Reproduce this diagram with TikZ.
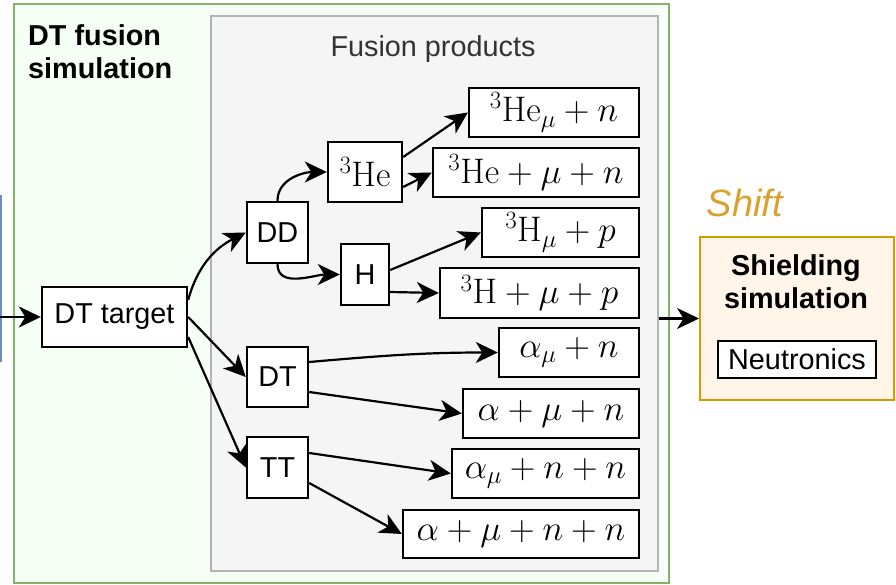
\RequirePackage{fix-cm}
\documentclass[tikz,border=0pt]{standalone}
\usepackage[no-math]{fontspec}
\setmainfont{Liberation Sans}
\usetikzlibrary{arrows.meta}

\definecolor{grnline}{HTML}{82B366}
\definecolor{grnfill}{HTML}{F6FFF5}
\definecolor{grayline}{HTML}{B3B3B3}
\definecolor{grayfill}{HTML}{F5F5F5}
\definecolor{orgline}{HTML}{D79B00}
\definecolor{orgfill}{HTML}{FFF5E9}
\definecolor{shiftcol}{HTML}{D9A12E}
\definecolor{bluline}{HTML}{6C8EBF}
\definecolor{labelgray}{HTML}{333333}

\newcommand{\sanssize}{\fontsize{28.8}{33}\selectfont}
\newcommand{\mathsize}{\fontsize{35.5}{42}\selectfont}

\tikzset{
  box/.style={draw=black, line width=2.4pt, fill=white, inner sep=0pt},
  sbox/.style={box, font=\sanssize},
  mbox/.style={box, font=\mathsize},
  link/.style={line width=2.2pt, -{Stealth[length=22pt,width=21pt,inset=6.5pt]}},
  frame/.style={line width=2pt, inner sep=0pt, anchor=north west},
  heading/.style={font=\sanssize\bfseries, inner sep=0pt},
}

\begin{document}
\begin{tikzpicture}[x=1pt, y=1pt]
  \useasboundingbox (0,0) rectangle (896,-585);

  % containers
  \node[frame, draw=grnline, fill=grnfill, minimum width=655pt, minimum height=579pt] (sim) at (13,-3) {};
  \draw[bluline, line width=2pt] (1,-195) -- (1,-362);
  \node[frame, draw=grayline, fill=grayfill, minimum width=447pt, minimum height=555pt] (prod) at (210,-15) {};

  \node[heading, anchor=base west] (simtitleA) at (28,-46) {DT fusion};
  \node[heading, anchor=base west] (simtitleB) at (28,-79) {simulation};
  \node[font=\sanssize, text=labelgray, inner sep=0pt, anchor=base] (prodtitle) at (433,-57) {Fusion products};

  % reaction chain
  \node[sbox, minimum width=145pt, minimum height=60pt] (dtt) at (114.5,-317) {DT target};
  \node[sbox, minimum width=61pt, minimum height=61pt] (dd) at (277.5,-232.5) {DD};
  \node[sbox, minimum width=61pt, minimum height=60pt] (dt) at (277.5,-377) {DT};
  \node[sbox, minimum width=61pt, minimum height=61pt] (tt) at (277.5,-467.5) {TT};
  \node[mbox, minimum width=74pt, minimum height=60pt] (he3) at (365,-172) {$^{3}\mathrm{He}$};
  \node[sbox, minimum width=48pt, minimum height=61pt] (h) at (365,-274.5) {H};

  % products
  \node[mbox, minimum width=170pt, minimum height=49pt] (p1) at (554,-112.5) {$^{3}\mathrm{He}_\mu+n$};
  \node[mbox, minimum width=206pt, minimum height=49pt] (p2) at (536,-172.5) {$^{3}\mathrm{He}+\mu+n$};
  \node[mbox, minimum width=157pt, minimum height=49pt] (p3) at (560.5,-232.5) {$^{3}\mathrm{H}_\mu+p$};
  \node[mbox, minimum width=199pt, minimum height=50pt] (p4) at (539.5,-293) {$^{3}\mathrm{H}+\mu+p$};
  \node[mbox, minimum width=140pt, minimum height=49pt] (p5) at (569,-352.5) {$\alpha_\mu+n$};
  \node[mbox, minimum width=176pt, minimum height=49pt] (p6) at (551,-413.5) {$\alpha+\mu+n$};
  \node[mbox, minimum width=187pt, minimum height=49pt] (p7) at (545.5,-473.5) {$\alpha_\mu+n+n$};
  \node[mbox, minimum width=236pt, minimum height=48pt] (p8) at (521,-534) {$\alpha+\mu+n+n$};

  % shielding stage
  \node[font=\fontsize{38}{44}\selectfont\itshape, text=shiftcol, inner sep=0pt, anchor=base] (shift) at (745,-217) {Shift};
  \node[frame, draw=orgline, fill=orgfill, minimum width=194pt, minimum height=163pt] (shield) at (699,-236) {};
  \node[heading, anchor=base] (shieldA) at (796,-275) {Shielding};
  \node[heading, anchor=base] (shieldB) at (796,-308) {simulation};
  \node[sbox, line width=2pt, minimum width=158pt, minimum height=37pt] (neut) at (797,-359.5) {Neutronics};

  % connectors
  \coordinate (src) at (0,-317);
  \draw[link] (src) -- (dtt.west);
  \draw[link] ([yshift=17pt]dtt.east) to[out=75,in=207] (dd.west);
  \draw[link] (dtt.east) -- (dt.west);
  \draw[link] ([yshift=-20pt]dtt.east) -- (tt.west);
  \draw[link] (dd.north) to[out=90,in=180] (he3.west);
  \draw[link] (dd.south) to[out=-90,in=180] (h.west);
  \draw[link] ([yshift=15pt]he3.east) -- (p1.west);
  \draw[link] ([yshift=-15pt]he3.east) -- (p2.west);
  \draw[link] ([yshift=4.5pt]h.east) -- (p3.west);
  \draw[link] ([yshift=-17.5pt]h.east) -- (p4.west);
  \draw[link] ([yshift=15pt]dt.east) to[out=5,in=180] (p5.west);
  \draw[link] ([yshift=-15pt]dt.east) -- (p6.west);
  \draw[link] ([yshift=14.5pt]tt.east) -- (p7.west);
  \draw[link] ([yshift=-15.5pt]tt.east) -- (p8.west);
  \draw[link] (prod.east |- shield.west) -- (shield.west);
\end{tikzpicture}
\end{document}
